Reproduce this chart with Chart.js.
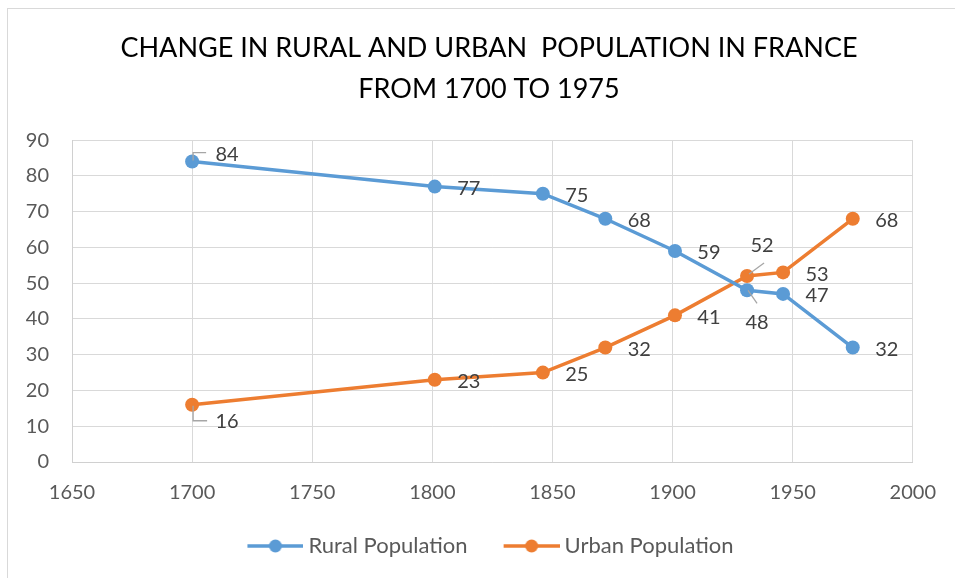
<!DOCTYPE html>
<html>
<head>
<meta charset="utf-8">
<title>Rural and urban population in France</title>
<script src="https://cdn.jsdelivr.net/npm/chart.js@4.4.1/dist/chart.umd.min.js"></script>
<style>
  body { margin: 0; background: #fff; }
  #wrap { position: relative; width: 955px; height: 578px; overflow: hidden; }
  #frame { position: absolute; left: 7px; top: 8px; width: 1000px; height: 620px;
           border-top: 1px solid #d9d9d9; border-left: 1px solid #d9d9d9; }
  #chart { position: absolute; left: 0; top: 0; }
</style>
</head>
<body>
<div id="wrap">
  <div id="frame"></div>
  <canvas id="chart" width="955" height="578"></canvas>
</div>
<script>
// survey years and share of population (%)
let years = [1700, 1801, 1846, 1872, 1901, 1931, 1946, 1975];
let rural = [84, 77, 75, 68, 59, 48, 47, 32];
let urban = [16, 23, 25, 32, 41, 52, 53, 68];

// axis ranges: [min, max, step]
let xRange = [1650, 2000, 50];
let yRange = [0, 90, 10];

let blue = "#5b9bd5";
let orange = "#ed7d31";
let font = "Lato, 'Open Sans', sans-serif";

// where a value label sits relative to its point, with optional leader line
let labelNudge = {
  "0:0": { dx: 35, dy: -7, leader: [[1, -1], [1, -9], [14, -9]] },
  "1:0": { dx: 35, dy: 17, leader: [[1, 1], [1, 16], [15, 16]] },
  "1:5": { dx: 15, dy: -30, leader: [[2, -2], [17, -13]] },
  "0:5": { dx: 10, dy: 32, leader: [[1, 0], [10, 13]] },
};

function toPoints(values) {
  return values.map((v, i) => ({ x: years[i], y: v }));
}

// line-with-dot swatch for the legend; the empty left part of the
// image is what spaces the two legend entries apart
function swatch(color) {
  let c = document.createElement("canvas");
  c.width = 88;
  c.height = 16;
  let g = c.getContext("2d");
  g.strokeStyle = color;
  g.lineWidth = 3.5;
  g.beginPath();
  g.moveTo(32, 8);
  g.lineTo(88, 8);
  g.stroke();
  g.fillStyle = color;
  g.beginPath();
  g.arc(60, 8, 6.5, 0, Math.PI * 2);
  g.fill();
  return c;
}

let valueLabels = {
  id: "valueLabels",
  afterUpdate(chart) {
    // title and legend sit a little right of the canvas centre
    chart.titleBlock.left += 60;
    let lg = chart.legend;
    lg.left += 37;
    lg.adjustHitBoxes();
  },
  afterDatasetsDraw(chart) {
    let ctx = chart.ctx;
    ctx.save();
    ctx.font = "20px " + font;
    ctx.fillStyle = "#404040";
    ctx.textAlign = "center";
    ctx.textBaseline = "middle";
    chart.data.datasets.forEach((ds, di) => {
      chart.getDatasetMeta(di).data.forEach((pt, i) => {
        let n = labelNudge[di + ":" + i] || { dx: 34, dy: 2 };
        if (n.leader) {
          ctx.strokeStyle = "#a6a6a6";
          ctx.lineWidth = 1.3;
          ctx.beginPath();
          n.leader.forEach((p, k) => {
            if (k == 0) ctx.moveTo(pt.x + p[0], pt.y + p[1]);
            else ctx.lineTo(pt.x + p[0], pt.y + p[1]);
          });
          ctx.stroke();
        }
        ctx.fillText(String(ds.data[i].y), pt.x + n.dx, pt.y + n.dy);
      });
    });
    ctx.restore();
  },
};

let ctx = document.getElementById("chart").getContext("2d");

let chart = new Chart(ctx, {
  type: "line",
  data: {
    datasets: [
      {
        label: "Rural Population",
        data: toPoints(rural),
        borderColor: blue,
        backgroundColor: blue,
        swatch: swatch(blue),
      },
      {
        label: "Urban Population",
        data: toPoints(urban),
        borderColor: orange,
        backgroundColor: orange,
        swatch: swatch(orange),
      },
    ],
  },
  options: {
    responsive: false,
    animation: false,
    events: [],
    elements: {
      line: { borderWidth: 3.5, tension: 0 },
      point: { radius: 7, borderWidth: 0 },
    },
    layout: { padding: { left: 0, right: 37, top: 0, bottom: 11 } },
    scales: {
      x: {
        type: "linear",
        min: xRange[0],
        max: xRange[1],
        afterFit: (s) => { s.height = 63; },
        ticks: {
          stepSize: xRange[2],
          padding: 19,
          color: "#595959",
          font: { family: font, size: 20 },
          callback: (v) => String(v),
        },
        grid: { color: "#d9d9d9", drawTicks: false },
        border: { color: "#d0d0d0" },
      },
      y: {
        min: yRange[0],
        max: yRange[1],
        afterFit: (s) => { s.width = 72; },
        ticks: {
          stepSize: yRange[2],
          padding: 23,
          color: "#595959",
          font: { family: font, size: 20 },
        },
        grid: { color: "#d9d9d9", drawTicks: false },
        border: { color: "#d0d0d0" },
      },
    },
    plugins: {
      tooltip: { enabled: false },
      title: {
        display: true,
        text: ["CHANGE IN RURAL AND URBAN  POPULATION IN FRANCE", "FROM 1700 TO 1975"],
        color: "#000",
        font: { family: font, size: 27, weight: "normal", lineHeight: 1.52 },
        padding: { top: 28, bottom: 30 },
      },
      legend: {
        position: "bottom",
        labels: {
          usePointStyle: true,
          pointStyleWidth: 76,
          padding: 10,
          color: "#595959",
          font: { family: font, size: 22 },
          generateLabels: (c) =>
            c.data.datasets.map((ds, i) => ({
              text: ds.label,
              pointStyle: ds.swatch,
              fontColor: "#595959",
              strokeStyle: ds.borderColor,
              fillStyle: ds.backgroundColor,
              lineWidth: 0,
              hidden: false,
              datasetIndex: i,
            })),
        },
      },
    },
  },
  plugins: [valueLabels],
});
</script>
</body>
</html>
